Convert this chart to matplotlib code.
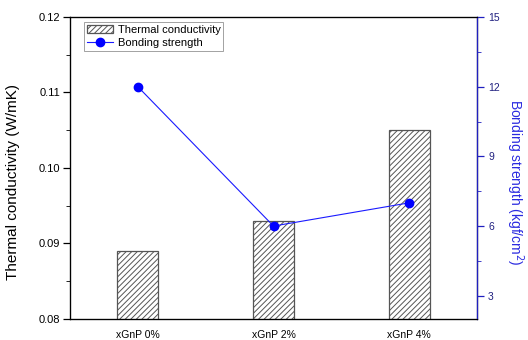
import matplotlib
matplotlib.use("Agg")
import matplotlib.pyplot as plt
from matplotlib.ticker import MultipleLocator

plt.rcParams['font.family'] = ['Liberation Sans', 'DejaVu Sans']
plt.rcParams['hatch.color'] = '#707070'
plt.rcParams['hatch.linewidth'] = 0.7

categories = ['xGnP 0%', 'xGnP 2%', 'xGnP 4%']
conductivity = [0.089, 0.093, 0.105]
bonding = [12, 6, 7]

fig = plt.figure(figsize=(5.28, 3.4), dpi=100)
ax = fig.add_axes([0.1326, 0.0618, 0.7708, 0.8882])
x = list(range(len(categories)))

bars = ax.bar(x, conductivity, width=0.3, color='white', edgecolor='#555555',
              linewidth=0.9, hatch='//////', label='Thermal conductivity')
ax.set_ylim(0.08, 0.12)
ax.set_xlim(-0.5, 2.5)
ax.set_xticks(x)
ax.set_xticklabels(categories, fontsize=7.5)
ax.tick_params(axis='x', length=0, pad=8)
ax.yaxis.set_major_locator(MultipleLocator(0.01))
ax.yaxis.set_minor_locator(MultipleLocator(0.005))
ax.set_yticklabels([f'{v:.2f}' for v in ax.get_yticks()])
ax.tick_params(axis='y', labelsize=8, direction='out', length=5, width=0.9,
               pad=2)
ax.tick_params(axis='y', which='minor', length=3)
ax.set_ylabel('Thermal conductivity (W/mK)', fontsize=11)
ax.yaxis.set_label_coords(-0.123, 0.454)
for s in ax.spines.values():
    s.set_linewidth(0.9)

ax2 = ax.twinx()
line, = ax2.plot(x, bonding, color='#1a1aff', linewidth=0.8, marker='o',
                 markersize=6, markerfacecolor='blue', markeredgecolor='blue',
                 label='Bonding strength')
ax2.set_ylim(2, 15)
ax2.yaxis.set_major_locator(MultipleLocator(3))
ax2.yaxis.set_minor_locator(MultipleLocator(1.5))
ax2.tick_params(axis='y', color='#2020c0', labelcolor='#202080', labelsize=7.5,
                direction='out', length=5, width=0.9, pad=3)
ax2.tick_params(axis='y', which='minor', color='#2020c0', length=3)
ax2.spines['right'].set_color('#2020c0')
ax2.spines['right'].set_linewidth(0.9)
ax2.set_ylabel('Bonding strength (kgf/cm$^2$)', color='#2a2ae0', fontsize=10,
               rotation=270, va='center')
ax2.yaxis.set_label_coords(1.094, 0.454)

leg = ax.legend([bars, line], ['Thermal conductivity', 'Bonding strength'],
                loc='upper left', bbox_to_anchor=(0.034, 0.983), fontsize=8,
                frameon=True, fancybox=False, edgecolor='#777777',
                borderpad=0.25, handlelength=2.4, handleheight=0.8,
                handletextpad=0.4, labelspacing=0.25, borderaxespad=0)
leg.get_frame().set_linewidth(0.6)

fig.savefig('out.png', dpi=100)
